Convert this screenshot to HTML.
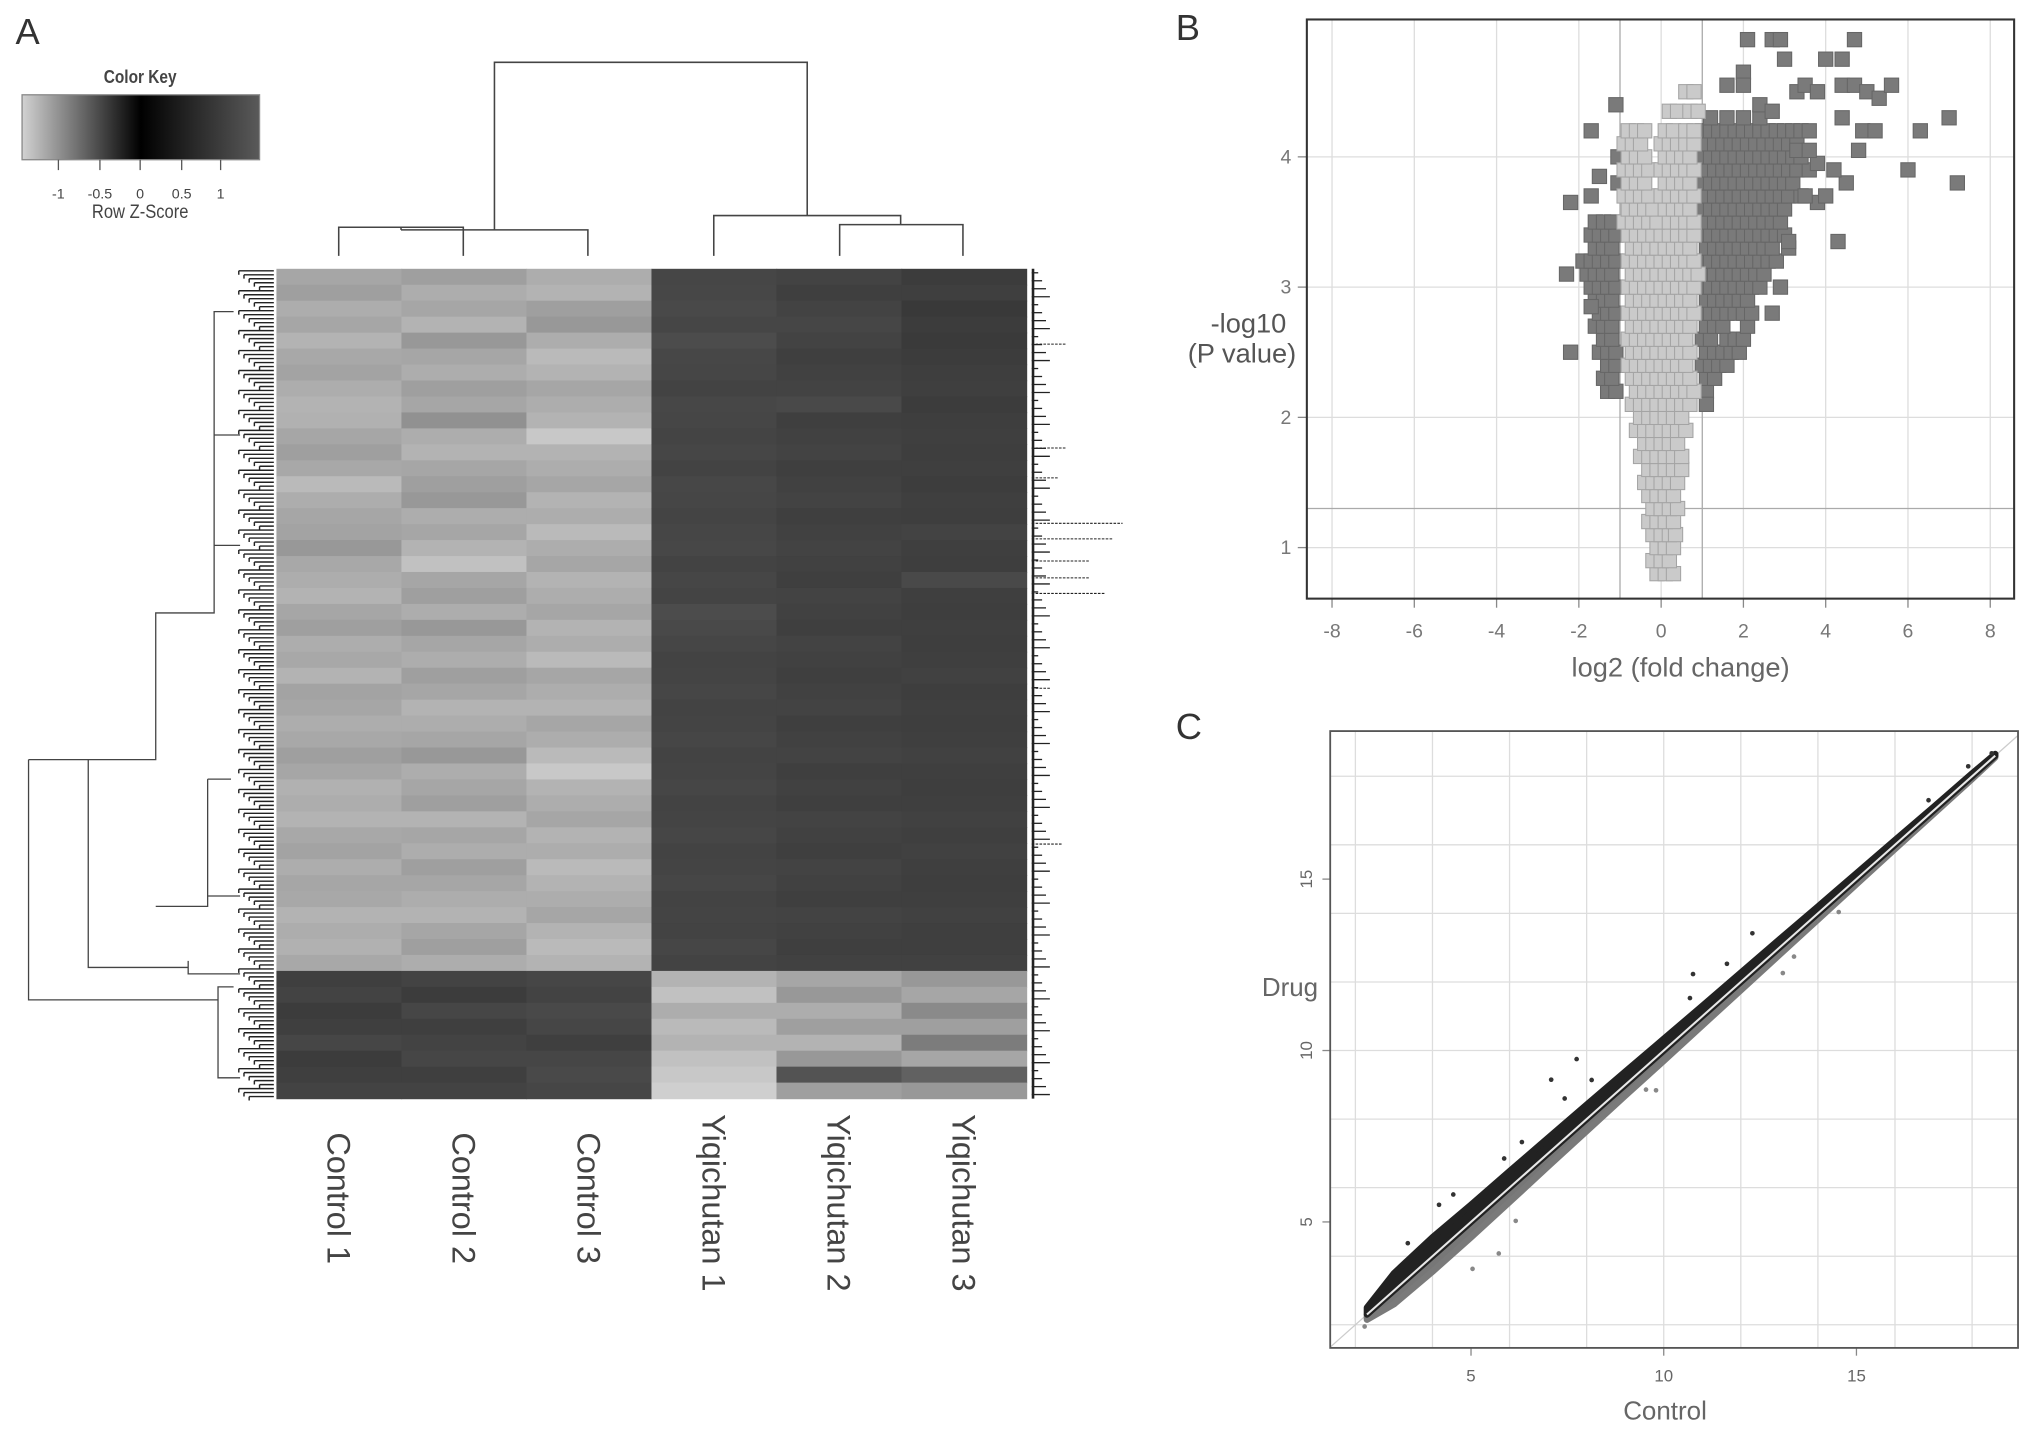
<!DOCTYPE html>
<html><head><meta charset="utf-8"><style>
html,body{margin:0;padding:0;background:#fff;}
svg{display:block;font-family:"Liberation Sans",sans-serif;}
</style></head><body>
<svg id="fig" width="2031" height="1431" viewBox="0 0 1565 1102" preserveAspectRatio="none" xmlns="http://www.w3.org/2000/svg">
<defs>
<linearGradient id="keyGrad" x1="0" x2="1" y1="0" y2="0">
<stop offset="0" stop-color="#d2d2d2"/><stop offset="0.5" stop-color="#000"/><stop offset="1" stop-color="#5a5a5a"/>
</linearGradient>
</defs>
<text x="12" y="34" font-size="28" fill="#333">A</text>
<text x="906" y="31" font-size="28" fill="#333">B</text>
<text x="906" y="569" font-size="28" fill="#333">C</text>
<g>
<text x="108" y="64" font-size="14" font-weight="bold" text-anchor="middle" fill="#444" transform="translate(108 0) scale(0.85 1) translate(-108 0)">Color Key</text>
<rect x="17" y="73" width="183" height="50" fill="url(#keyGrad)" stroke="#888"/>
<g stroke="#555"><line x1="45" y1="123" x2="45" y2="131"/><line x1="77" y1="123" x2="77" y2="131"/><line x1="108" y1="123" x2="108" y2="131"/><line x1="140" y1="123" x2="140" y2="131"/><line x1="170" y1="123" x2="170" y2="131"/></g>
<g font-size="11" fill="#444" text-anchor="middle"><text x="45" y="153">-1</text><text x="77" y="153">-0.5</text><text x="108" y="153">0</text><text x="140" y="153">0.5</text><text x="170" y="153">1</text></g>
<text x="108" y="168" font-size="15" fill="#444" text-anchor="middle" transform="translate(108 0) scale(0.85 1) translate(-108 0)">Row Z-Score</text>
</g>
<g id="heat"></g>
<g id="volcano"></g>
<g id="scatter"></g>
</svg>
<script>
// ---------- Panel A data ----------
const sampleNames = ["Control 1","Control 2","Control 3","Yiqichutan 1","Yiqichutan 2","Yiqichutan 3"];
const zC1 = [-1.2,-1.15,-1.25,-1.2,-1.3,-1.22,-1.18,-1.25,-1.3,-1.28,-1.2,-1.15,-1.22,-1.35,-1.25,-1.2,-1.18,-1.1,-1.22,-1.25,-1.3,-1.2,-1.15,-1.25,-1.22,-1.3,-1.18,-1.2,-1.25,-1.22,-1.15,-1.2,-1.28,-1.25,-1.3,-1.22,-1.18,-1.25,-1.2,-1.22,-1.3,-1.25,-1.28,-1.22,1.0,1.05,0.95,1.0,1.1,0.95,1.0,1.05];
const zC2 = [-1.15,-1.25,-1.2,-1.3,-1.1,-1.2,-1.25,-1.15,-1.2,-1.05,-1.25,-1.3,-1.2,-1.15,-1.1,-1.25,-1.2,-1.3,-1.4,-1.2,-1.15,-1.25,-1.1,-1.2,-1.25,-1.15,-1.2,-1.3,-1.25,-1.2,-1.1,-1.25,-1.2,-1.15,-1.3,-1.2,-1.25,-1.15,-1.2,-1.25,-1.3,-1.2,-1.15,-1.25,1.05,0.95,1.1,1.0,1.05,1.1,1.0,1.05];
const zC3 = [-1.25,-1.3,-1.15,-1.1,-1.25,-1.35,-1.3,-1.2,-1.25,-1.3,-1.45,-1.3,-1.25,-1.2,-1.3,-1.25,-1.35,-1.25,-1.2,-1.3,-1.25,-1.2,-1.3,-1.25,-1.35,-1.2,-1.25,-1.3,-1.2,-1.25,-1.35,-1.45,-1.3,-1.25,-1.2,-1.3,-1.25,-1.35,-1.3,-1.25,-1.2,-1.3,-1.35,-1.3,1.1,1.05,1.15,1.1,1.0,1.1,1.15,1.1];
const zY1 = [1.1,1.12,1.15,1.1,1.2,1.12,1.1,1.05,1.12,1.1,1.08,1.1,1.05,1.12,1.1,1.08,1.1,1.12,1.05,1.1,1.08,1.2,1.15,1.1,1.05,1.08,1.1,1.05,1.08,1.1,1.05,1.08,1.1,1.05,1.08,1.1,1.05,1.08,1.1,1.05,1.08,1.05,1.1,1.05,-1.3,-1.4,-1.25,-1.35,-1.3,-1.4,-1.45,-1.5];
const zY2 = [1.05,1.0,1.05,1.1,1.05,1.0,1.02,1.05,1.15,1.0,1.02,1.05,1.0,1.02,1.05,1.0,1.02,1.05,1.02,1.0,1.05,1.02,1.0,1.05,1.02,1.0,1.02,1.05,1.0,1.02,1.05,1.0,1.02,1.0,1.05,1.02,1.0,1.05,1.02,1.0,1.05,1.02,1.0,1.02,-1.2,-1.1,-1.25,-1.15,-1.3,-1.1,-0.6,-1.15];
const zY3 = [0.95,1.0,0.9,0.95,0.92,0.95,0.98,1.0,0.95,0.98,1.0,0.98,1.0,0.97,1.0,0.98,1.05,1.0,0.98,1.15,1.0,0.98,1.0,0.98,1.0,1.02,0.98,1.0,0.98,1.0,1.02,1.0,0.98,1.0,1.02,1.0,1.02,1.0,0.98,1.0,1.02,1.0,1.0,1.02,-1.1,-1.2,-1.0,-1.15,-0.9,-1.2,-0.7,-1.1];
const heatCols = [zC1,zC2,zC3,zY1,zY2,zY3];

// ---------- Panel B data ----------
const lightY = [0.8,0.9,1.0,1.1,1.2,1.3,1.4,1.5,1.6,1.7,1.8,1.9,2.0,2.1,2.2,2.3,2.4,2.5,2.6,2.7,2.8,2.9,3.0,3.1,3.2,3.3,3.4,3.5,3.6,3.7,3.8,3.9,4.0,4.1,4.2,4.35,4.5];
const lightX = [
[-0.1,0.1,0.3],[-0.2,0.0,0.2],[-0.1,0.1,0.3],[-0.2,0.0,0.2,0.35],[-0.3,-0.1,0.1,0.3],[-0.2,0.0,0.2,0.4],[-0.3,-0.1,0.1,0.3],
[-0.4,-0.2,0.0,0.2,0.4],[-0.3,-0.1,0.1,0.3,0.5],[-0.5,-0.3,-0.1,0.1,0.3,0.5],[-0.4,-0.2,0.0,0.2,0.4],[-0.6,-0.4,-0.2,0.0,0.2,0.4,0.6],
[-0.5,-0.3,-0.1,0.1,0.3,0.5],[-0.7,-0.5,-0.3,-0.1,0.1,0.3,0.5,0.7],[-0.6,-0.4,-0.2,0.0,0.2,0.4,0.6,0.8],[-0.7,-0.5,-0.3,-0.1,0.1,0.3,0.5,0.7],
[-0.8,-0.6,-0.4,-0.2,0.0,0.2,0.4,0.6],[-0.7,-0.5,-0.3,-0.1,0.1,0.3,0.5,0.7],[-0.8,-0.6,-0.4,-0.2,0.0,0.2,0.4,0.6],[-0.7,-0.5,-0.3,-0.1,0.1,0.3,0.5,0.7],
[-0.8,-0.6,-0.4,-0.2,0.0,0.2,0.4,0.6,0.8],[-0.7,-0.5,-0.3,-0.1,0.1,0.3,0.5,0.7],[-0.8,-0.6,-0.4,-0.2,0.0,0.2,0.4,0.6,0.8],[-0.7,-0.5,-0.3,-0.1,0.1,0.3,0.5,0.7,0.9],
[-0.8,-0.6,-0.4,-0.2,0.0,0.2,0.4,0.6,0.8],[-0.7,-0.5,-0.3,-0.1,0.1,0.3,0.5,0.7],[-0.8,-0.6,-0.4,-0.2,0.0,0.2,0.4,0.6,0.8],[-0.9,-0.7,-0.5,-0.3,-0.1,0.2,0.4,0.6,0.8],
[-0.8,-0.6,-0.4,-0.2,0.1,0.3,0.5,0.7],[-0.9,-0.7,-0.5,-0.3,0.0,0.2,0.4,0.6,0.8],[-0.8,-0.6,-0.4,0.1,0.3,0.5,0.7],[-0.9,-0.7,-0.5,-0.3,0.0,0.2,0.4,0.6,0.8],
[-0.8,-0.6,-0.4,0.1,0.3,0.5,0.7],[-0.9,-0.7,-0.5,0.0,0.2,0.4,0.6,0.8],[-0.8,-0.6,-0.4,0.1,0.3,0.6,0.8],[0.2,0.4,0.7,0.9],[0.6,0.8]];
const darkY = [2.2,2.3,2.4,2.5,2.6,2.7,2.8,2.9,3.0,3.1,3.2,3.3,3.4,3.5,3.6,3.7,3.8,3.9,4.0,4.1,4.2,4.3];
const darkX = [
[-1.3,-1.1,1.1],[-1.4,-1.2,1.1,1.3],[-1.3,-1.1,1.0,1.2,1.4,1.6],[-1.5,-1.3,-1.1,1.1,1.3,1.5,1.7,1.9],[-1.4,-1.2,1.0,1.2,1.6,1.8,2.0],
[-1.6,-1.4,-1.2,1.1,1.3,1.5,2.1],[-1.5,-1.3,-1.1,1.0,1.2,1.4,1.6,1.8,2.0,2.2],[-1.6,-1.4,-1.2,1.1,1.3,1.5,1.7,1.9,2.1],
[-1.7,-1.5,-1.3,-1.1,1.0,1.2,1.4,1.6,1.8,2.0,2.2,2.4],[-1.8,-1.6,-1.4,-1.2,1.1,1.3,1.5,1.7,1.9,2.1,2.3,2.5],
[-1.9,-1.7,-1.5,-1.3,-1.1,1.0,1.2,1.4,1.6,1.8,2.0,2.2,2.4,2.6,2.8],[-1.6,-1.4,-1.2,1.1,1.3,1.5,1.7,1.9,2.1,2.3,2.5,2.7,3.1],
[-1.7,-1.5,-1.3,-1.1,1.0,1.2,1.4,1.6,1.8,2.0,2.2,2.4,2.6,2.8,3.0],[-1.6,-1.4,-1.2,1.1,1.3,1.5,1.7,1.9,2.1,2.3,2.5,2.7,2.9],
[1.0,1.2,1.4,1.6,1.8,2.0,2.2,2.4,2.6,2.8,3.0],[1.1,1.3,1.5,1.7,1.9,2.1,2.3,2.5,2.7,2.9,3.1,3.4],[-1.05,1.0,1.2,1.4,1.6,1.8,2.0,2.2,2.4,2.6,2.8,3.0,3.2],
[1.1,1.3,1.5,1.7,1.9,2.1,2.3,2.5,2.7,2.9,3.1,3.3,3.6],[-1.05,1.0,1.2,1.4,1.6,1.8,2.0,2.2,2.4,2.6,2.8,3.0,3.2,3.4],[1.1,1.3,1.5,1.7,1.9,2.1,2.3,2.5,2.7,2.9,3.1,3.3],
[1.0,1.2,1.4,1.6,1.8,2.0,2.2,2.4,2.6,2.8,3.0,3.2,3.4,3.6],[1.2,1.6,2.0,2.4]];
const outX = [-2.3,-2.2,-2.2,-1.7,-1.5,-1.7,-1.1,-1.7,2.1,2.7,2.9,3.0,4.0,4.4,4.7,2.0,1.6,2.0,3.3,3.5,3.8,4.4,4.7,5.0,5.3,5.6,2.4,2.7,4.4,4.9,5.2,6.3,7.0,4.8,6.0,7.2,4.5,3.8,4.0,3.5,4.3,2.9,2.7,1.1,3.1,3.3,3.8,4.2,3.6];
const outY = [3.1,2.5,3.65,3.7,3.85,4.2,4.4,2.85,4.9,4.9,4.9,4.75,4.75,4.75,4.9,4.65,4.55,4.55,4.5,4.55,4.5,4.55,4.55,4.5,4.45,4.55,4.4,4.35,4.3,4.2,4.2,4.2,4.3,4.05,3.9,3.8,3.8,3.65,3.7,3.7,3.35,3.0,2.8,2.1,3.35,4.05,3.95,3.9,4.05];
const volXTicks = [-8,-6,-4,-2,0,2,4,6,8];
const volYTicks = [1,2,3,4];

// ---------- Panel C data ----------
const bandX = [2.3,3,4,5,6,7,8,9,10,11,12,13,14,15,16,17,18,18.6];
const bandUp = [0.2,0.5,0.55,0.5,0.48,0.45,0.42,0.38,0.34,0.3,0.27,0.24,0.2,0.17,0.14,0.1,0.08,0.05];
const bandDown = [0.15,0.4,0.45,0.45,0.42,0.38,0.35,0.32,0.3,0.27,0.24,0.21,0.18,0.15,0.12,0.1,0.08,0.05];
const scCtrl = [3.36,4.17,4.54,7.08,7.74,8.13,7.43,5.86,6.32,10.76,10.68,12.3,11.64,6.16,5.72,5.04,2.24,9.8,9.54,13.09,13.38,14.54,16.87,17.9,18.51];
const scDrug = [4.38,5.5,5.8,9.15,9.75,9.14,8.6,6.85,7.33,12.23,11.53,13.42,12.53,5.03,4.08,3.63,1.95,8.84,8.86,12.26,12.74,14.04,17.3,18.29,18.67];
const scTicks = [5,10,15];
const scGrid = [2,4,6,8,10,12,14,16,18];

const NS = "http://www.w3.org/2000/svg";
function mk(parent, tag, attrs){const e=document.createElementNS(NS,tag);for(const k in attrs)e.setAttribute(k,attrs[k]);parent.appendChild(e);return e;}

// ---------- Heatmap ----------
const heat = document.getElementById('heat');
const hx0=213, hx1=791, hy0=207, hy1=846;
const nRows = zC1.length, colW=(hx1-hx0)/6, rowH=(hy1-hy0)/nRows;
function zColor(z){let v; if(z<0){v=Math.round(207*Math.min(1,-z/1.5));}else{v=Math.round(95*Math.min(1,z/1.5));} return `rgb(${v},${v},${v})`;}
heatCols.forEach((col,ci)=>{
  col.forEach((z,ri)=>{
    const r=mk(heat,'rect',{x:hx0+ci*colW,y:hy0+ri*rowH,width:colW+0.5,height:rowH+0.5,fill:zColor(z)});
    
    
  });
  const t=mk(heat,'text',{x:0,y:0,'font-size':25,fill:'#444',transform:`translate(${hx0+ci*colW+colW/2-9} ${ci<3?872:858}) rotate(90)`});
  t.textContent=sampleNames[ci];
  
  
});
const cd = mk(heat,'g',{stroke:'#444','stroke-width':1.2,fill:'none'});


mk(cd,'path',{d:'M261 197V175H357V197 M309 175V177 M309 177H453V197 M381 177V48H622V166 M550 197V166H694V173 M647 197V173H742V197'});
const rd = mk(heat,'g',{stroke:'#444','stroke-width':1,fill:'none'});


mk(rd,'path',{d:'M22 585V770H168 M22 585H68V745H145 M68 745V585 M68 585H120V472H165V335H185 M120 698H160V600 M165 472V420H185 M160 600H178 M160 698V690H185 M145 740V750H185 M168 770V760H180 M168 770V830H185 M165 335V240H180'});
for(let i=0;i<nRows*4;i++){
  const y=hy0+ (i+0.5)*(hy1-hy0)/(nRows*4);
  mk(rd,'path',{d:`M${184+(i%5)*4} ${y}H211 M${184+(i%5)*4} ${y}V${y+3}`,'stroke-width':1.1,stroke:'#222'});
}
const rl = mk(heat,'g',{stroke:'#222','stroke-width':1});


for(let i=0;i<nRows*2;i++){const y=hy0+(i+0.5)*(hy1-hy0)/(nRows*2);mk(rl,'line',{x1:795,y1:y,x2:800+(i%4)*3,y2:y});}
[[265,822],[345,822],[403,865],[415,858],[432,840],[445,840],[457,852],[368,815],[530,810],[650,818]].forEach(p=>mk(rl,'line',{x1:795,y1:p[0],x2:p[1],y2:p[0],'stroke-width':0.8,'stroke-dasharray':'2 1'}));
mk(rl,'line',{x1:796,y1:hy0,x2:796,y2:hy1,'stroke-width':2});

// ---------- Volcano ----------
const vol=document.getElementById('volcano');
const bx0=1007,bx1=1552,by0=15,by1=461;
const vx=x=>1280+x*31.7, vy=y=>522-y*100.3;
volXTicks.forEach(t=>{
  mk(vol,'line',{x1:vx(t),y1:by0,x2:vx(t),y2:by1,stroke:'#ddd'});
  mk(vol,'line',{x1:vx(t),y1:by1,x2:vx(t),y2:by1+7,stroke:'#888'});
  const tx=mk(vol,'text',{x:vx(t),y:by1+30,'font-size':15,fill:'#777','text-anchor':'middle'});tx.textContent=t;
  
  
});
volYTicks.forEach(t=>{
  mk(vol,'line',{x1:bx0,y1:vy(t),x2:bx1,y2:vy(t),stroke:'#ddd'});
  mk(vol,'line',{x1:bx0-7,y1:vy(t),x2:bx0,y2:vy(t),stroke:'#888'});
  const ty=mk(vol,'text',{x:bx0-12,y:vy(t)+5,'font-size':15,fill:'#777','text-anchor':'end'});ty.textContent=t;
  
  
});
mk(vol,'line',{x1:vx(-1),y1:by0,x2:vx(-1),y2:by1,stroke:'#aaa'});
mk(vol,'line',{x1:vx(1),y1:by0,x2:vx(1),y2:by1,stroke:'#aaa'});
mk(vol,'line',{x1:bx0,y1:vy(1.3),x2:bx1,y2:vy(1.3),stroke:'#aaa'});
const S=11;
function sq(x,y,fill,stroke,name){const r=mk(vol,'rect',{x:vx(x)-S/2,y:vy(y)-S/2,width:S,height:S,fill:fill,stroke:stroke,'stroke-width':0.8});
  
  }
darkY.forEach((y,i)=>darkX[i].forEach(x=>sq(x,y,'#7a7a7a','#666','significant-point')));
outX.forEach((x,i)=>sq(x,outY[i],'#7a7a7a','#666','significant-point'));
lightY.forEach((y,i)=>lightX[i].forEach(x=>sq(x,y,'#cacaca','#a4a4a4','nonsignificant-point')));
mk(vol,'rect',{x:bx0,y:by0,width:bx1-bx0,height:by1-by0,fill:'none',stroke:'#333','stroke-width':1.6});
const xl=mk(vol,'text',{x:1295,y:521,'font-size':21,fill:'#666','text-anchor':'middle'});xl.textContent='log2  (fold change)';


const yl1=mk(vol,'text',{x:962,y:256,'font-size':21,fill:'#555','text-anchor':'middle'});yl1.textContent='-log10';


const yl2=mk(vol,'text',{x:957,y:279,'font-size':21,fill:'#555','text-anchor':'middle'});yl2.textContent='(P value)';



// ---------- Scatter C ----------
const sc=document.getElementById('scatter');
const cx0=1025,cx1=1555,cy0=563,cy1=1038;
const sx=x=>985+x*29.7, sy=y=>1073-y*26.4;
scGrid.forEach(g=>{
  mk(sc,'line',{x1:sx(g),y1:cy0,x2:sx(g),y2:cy1,stroke:'#ddd'});
  mk(sc,'line',{x1:cx0,y1:sy(g),x2:cx1,y2:sy(g),stroke:'#ddd'});
});
scTicks.forEach(t=>{
  mk(sc,'line',{x1:sx(t),y1:cy1,x2:sx(t),y2:cy1+6,stroke:'#888'});
  const a=mk(sc,'text',{x:sx(t),y:cy1+26,'font-size':13,fill:'#666','text-anchor':'middle'});a.textContent=t;
  
  
  mk(sc,'line',{x1:cx0-6,y1:sy(t),x2:cx0,y2:sy(t),stroke:'#888'});
  const b=mk(sc,'text',{x:0,y:0,'font-size':13,fill:'#666','text-anchor':'middle',transform:`translate(${cx0-14} ${sy(t)}) rotate(-90)`});b.textContent=t;
  
  
});
mk(sc,'line',{x1:sx(1.35),y1:sy(1.35),x2:sx(19.2),y2:sy(19.2),stroke:'#ccc','stroke-width':1});
const rev = bandX.map((x,i)=>i).reverse();
const up='M'+bandX.map(x=>sx(x)+' '+sy(x)).join(' L')+' L'+rev.map(j=>sx(bandX[j])+' '+sy(bandX[j]+bandUp[j])).join(' L')+'Z';
const dn='M'+bandX.map(x=>sx(x)+' '+sy(x)).join(' L')+' L'+rev.map(j=>sx(bandX[j])+' '+sy(bandX[j]-bandDown[j])).join(' L')+'Z';
const pd=mk(sc,'path',{d:dn,fill:'#777',stroke:'#7a7a7a','stroke-width':5,'stroke-linejoin':'round'});


const pu=mk(sc,'path',{d:up,fill:'#222',stroke:'#222','stroke-width':5,'stroke-linejoin':'round'});


mk(sc,'line',{x1:sx(2.3),y1:sy(2.3),x2:sx(18.6),y2:sy(18.6),stroke:'#e8e8e8','stroke-width':1.6});
scCtrl.forEach((x,i)=>{const c=mk(sc,'circle',{cx:sx(x),cy:sy(scDrug[i]),r:1.8,fill:scDrug[i]>x?'#333':'#888'});
  
  });
mk(sc,'rect',{x:cx0,y:cy0,width:cx1-cx0,height:cy1-cy0,fill:'none',stroke:'#555','stroke-width':1.4});
const cxl=mk(sc,'text',{x:1283,y:1093,'font-size':20,fill:'#666','text-anchor':'middle'});cxl.textContent='Control';


const cyl=mk(sc,'text',{x:994,y:767,'font-size':20,fill:'#666','text-anchor':'middle'});cyl.textContent='Drug';


</script>
</body></html>
